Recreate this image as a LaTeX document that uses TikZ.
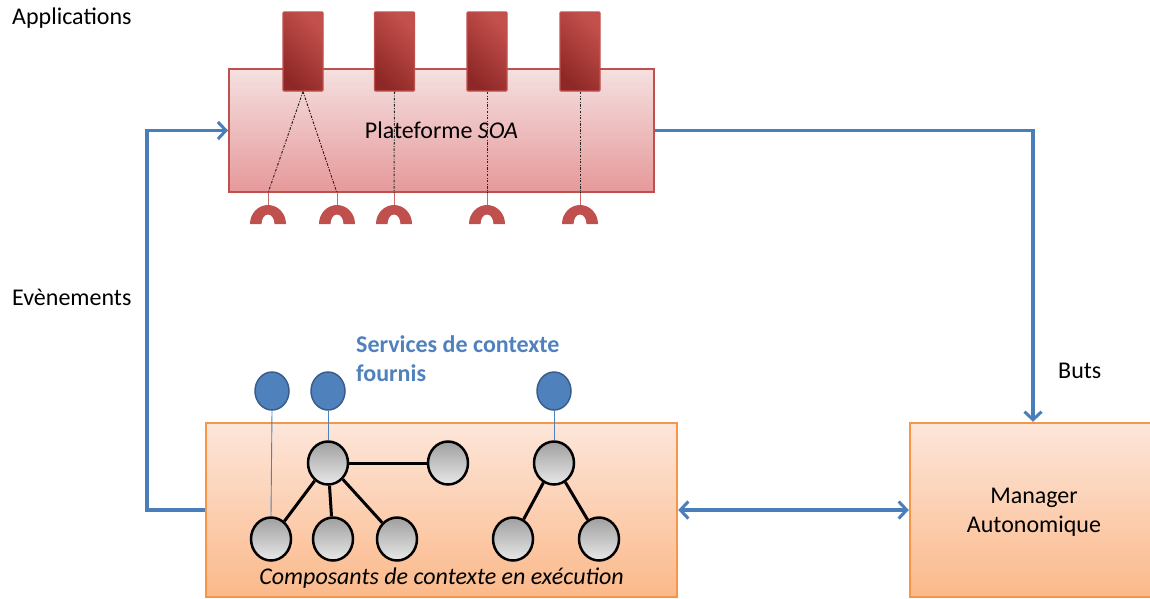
\documentclass[tikz,border=0pt]{standalone}
\usepackage{fontspec}
\setmainfont{Carlito}
\usetikzlibrary{arrows.meta,shapes.geometric,calc}
\definecolor{conn}{HTML}{4A7EBB}
\definecolor{svc}{HTML}{4F81BD}
\definecolor{svcb}{HTML}{385D8A}
\definecolor{platb}{HTML}{C0504D}
\definecolor{plattop}{HTML}{F5E0E0}
\definecolor{platbot}{HTML}{E6999A}
\definecolor{appl}{HTML}{8E2826}
\definecolor{appr}{HTML}{C4504C}
\definecolor{orb}{HTML}{F79646}
\definecolor{ortop}{HTML}{FDE6DA}
\definecolor{orbot}{HTML}{FBB98A}
\tikzset{
  lbl/.style={font=\fontsize{24}{29}\selectfont, inner sep=0pt},
  conn/.style={draw=conn, line width=3.5pt, line join=miter},
  tip/.style={-{Straight Barb[length=8pt,width=17pt,line width=3pt]}},
  apptile/.style={draw=platb, line width=1.2pt, left color=appl, right color=appr, shading angle=135, minimum width=40pt, minimum height=79pt, inner sep=0pt, rounded corners=1pt},
  ring/.style={fill=platb, draw=none},
  dotl/.style={black!85, line width=1pt, dash pattern=on 2.5pt off 1.5pt on 0.8pt off 1.5pt},
  comp/.style={ellipse, draw=black, line width=2.5pt, top color=gray!75, bottom color=gray!18, minimum width=40pt, minimum height=43pt, inner sep=0pt},
  svcnode/.style={ellipse, draw=svcb, line width=1.5pt, fill=svc, minimum width=34pt, minimum height=38pt, inner sep=0pt},
  svcline/.style={draw=svc, line width=0.9pt},
  edge/.style={draw=black, line width=3pt},
  orbox/.style={draw=orb, line width=2.5pt, top color=ortop, bottom color=orbot, inner sep=0pt},
}
\begin{document}
\begin{tikzpicture}[x=1pt,y=-1pt]
\useasboundingbox (0,0) rectangle (1150,598);

% texts
\node[lbl, anchor=west] (applab) at (12,18) {Applications};
\node[lbl, anchor=west] (evlab) at (12,297) {Evènements};
\node[lbl, anchor=west] (butlab) at (1058,371) {Buts};
\node[lbl, anchor=north west, align=left, text=svc, font=\fontsize{24}{29}\selectfont\bfseries] (svclab) at (356,335) {Services de contexte\\fournis};

% platform
\node[draw=platb, line width=2pt, top color=plattop, bottom color=platbot, minimum width=425pt, minimum height=123pt, inner sep=0pt, lbl] (plat) at (441.5,130.5) {Plateforme \textit{SOA}};

% applications
\node[apptile] (app1) at (303,51.5) {};
\node[apptile] (app2) at (394.5,51.5) {};
\node[apptile] (app3) at (487,51.5) {};
\node[apptile] (app4) at (580,51.5) {};

% required interfaces (half rings)
\foreach \n/\cx in {1/268,2/337,3/394,4/487,5/580}{
  \coordinate (r\n) at (\cx,224);
  \fill[ring] (\cx-18,224) arc[start angle=180,end angle=360,x radius=18,y radius=19]
     -- (\cx+6.5,224) arc[start angle=0,end angle=-180,x radius=6.5,y radius=9.5] -- cycle;
  \draw[platb!85, line width=1pt] (r\n |- plat.south) -- ($(r\n)+(0,-19)$);
}

% dotted links
\draw[dotl] (app1.south) -- (r1 |- plat.south);
\draw[dotl] (app1.south) -- (r2 |- plat.south);
\draw[dotl] (app2.south) -- (r3 |- plat.south);
\draw[dotl] (app3.south) -- (r4 |- plat.south);
\draw[dotl] (app4.south) -- (r5 |- plat.south);

% bottom boxes
\node[orbox, minimum width=471pt, minimum height=174pt] (compbox) at (441.5,510) {};
\node[lbl, font=\fontsize{24}{29}\selectfont\itshape] (complab) at (441.5,578) {Composants de contexte en exécution};
\node[orbox, minimum width=250pt, minimum height=174pt, lbl, align=center] (man) at (1035,510) {};
\node[lbl, align=center] (manlab) at (1034,512.5) {Manager\\Autonomique};

% components
\node[comp] (ca) at (328,463) {};
\node[comp] (cb) at (448,463) {};
\node[comp] (c1) at (271,539) {};
\node[comp] (c2) at (333,539) {};
\node[comp] (c3) at (397,539) {};
\node[comp] (cr) at (554,463) {};
\node[comp] (cr1) at (513,539) {};
\node[comp] (cr2) at (599,539) {};
\draw[edge] (ca) -- (cb);
\draw[edge] (ca) -- (c1);
\draw[edge] (ca) -- (c2);
\draw[edge] (ca) -- (c3);
\draw[edge] (cr) -- (cr1);
\draw[edge] (cr) -- (cr2);

% provided services
\node[svcnode] (s1) at (272,391) {};
\node[svcnode] (s2) at (328,391) {};
\node[svcnode] (s3) at (554,391) {};
\draw[svcline] (s1.south) -- (c1.north);
\draw[svcline] (s2.south) -- (ca.north);
\draw[svcline] (s3.south) -- (cr.north);

% connectors
\coordinate (evx) at (147,300);
\draw[conn, tip] (compbox.west) -| (evx) |- (plat.west);
\coordinate (butx) at (1033,300);
\draw[conn, tip] (plat.east) -| (butx) -- (butx |- man.north);
\draw[conn, {Straight Barb[length=8pt,width=17pt,line width=3pt]}-{Straight Barb[length=8pt,width=17pt,line width=3pt]}] (compbox.east) -- (man.west);
\end{tikzpicture}
\end{document}
